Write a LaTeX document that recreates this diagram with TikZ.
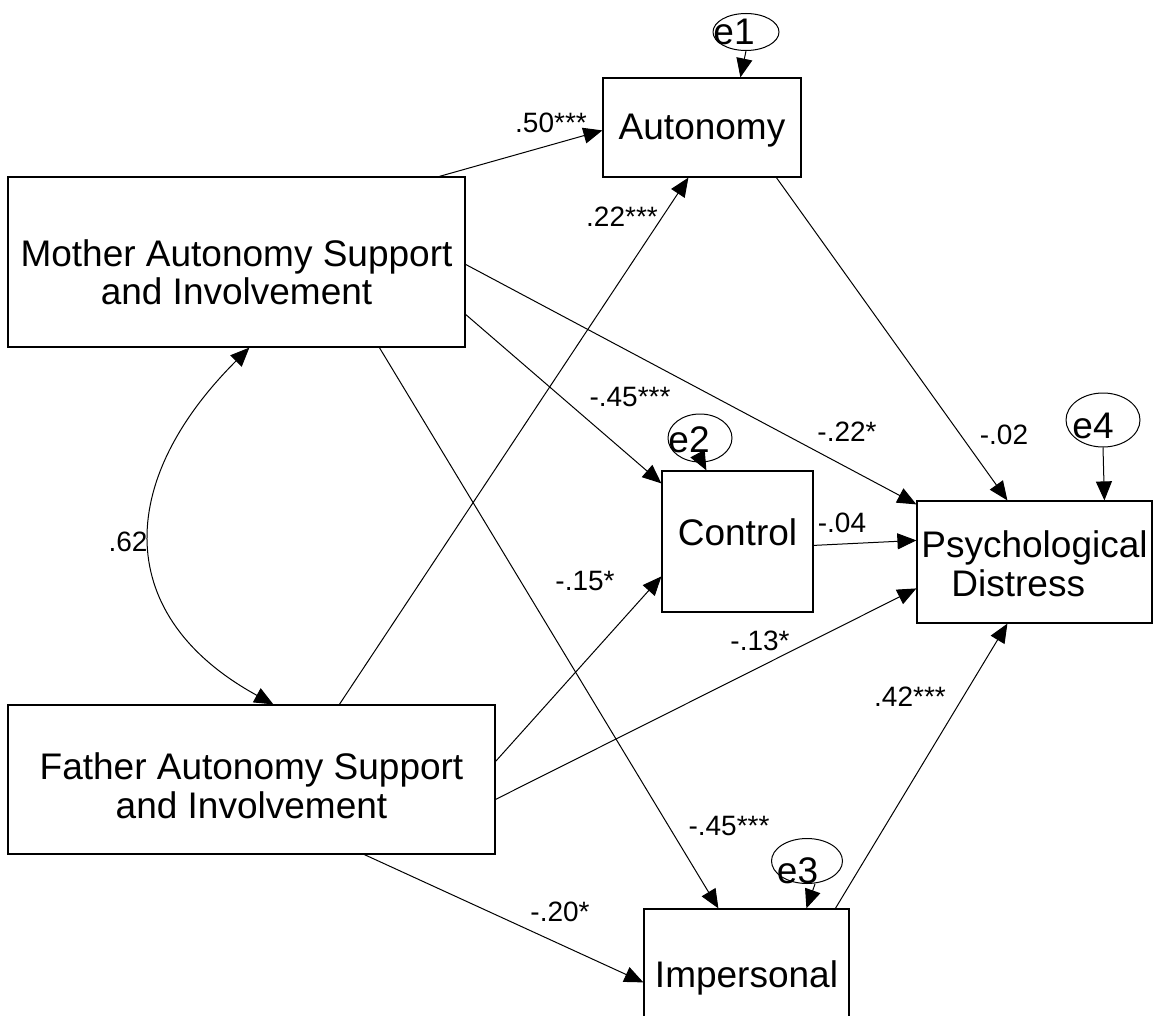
\documentclass[tikz,border=0pt]{standalone}
\usepackage{fontspec}
\setmainfont{Liberation Sans}
\usetikzlibrary{arrows.meta,calc,shapes.geometric}

% box text: first baseline lowered by #1 below the node centre
\newcommand\boxlines[3]{\raisebox{-#1}[0pt][0pt]{\begin{tabular}[t]{@{}#2@{}}#3\end{tabular}}}
% error term label: baseline lowered by #1, pulled left by half of #2
\newcommand\errlabel[3]{\raisebox{-#1}[0pt][0pt]{\makebox[0pt]{#3\hspace*{#2}}}}

\tikzset{
  varbox/.style={draw, rectangle, line width=0.6pt, inner sep=0pt,
                 font=\fontsize{18.5}{19.5}\selectfont},
  errnode/.style={draw, ellipse, line width=0.5pt, inner sep=0pt,
                  font=\fontsize{18.5}{19.5}\selectfont},
  link/.style={-{Triangle[length=9.5pt,width=8pt]}, line width=0.5pt},
  covlink/.style={{Triangle[length=9.5pt,width=8pt]}-{Triangle[length=9.5pt,width=8pt]}, line width=0.5pt},
  coef/.style={font=\fontsize{14}{16}\selectfont, inner sep=0pt},
}

\begin{document}
\begin{tikzpicture}[x=0.5pt, y=-0.5pt]
\fill[white] (0,0) rectangle (1156,1016);
\useasboundingbox (0,0) rectangle (1156,1016);

% observed variables
\node[varbox, minimum width=228.5pt, minimum height=85pt] (mother) at (236.5,262)
  {\boxlines{2pt}{c}{Mother Autonomy Support\\and Involvement}};
\node[varbox, minimum width=243.5pt, minimum height=74.5pt] (father) at (251.5,779.5)
  {\boxlines{0pt}{c}{Father Autonomy Support\\and Involvement}};
\node[varbox, minimum width=99pt, minimum height=49.5pt] (auton) at (702,127.5)
  {\boxlines{6.25pt}{c}{Autonomy}};
\node[varbox, minimum width=75.5pt, minimum height=70.5pt] (control) at (737.5,541.5)
  {\boxlines{1.75pt}{c}{Control}};
\node[varbox, minimum width=117.5pt, minimum height=61pt] (psych) at (1034.5,562)
  {\boxlines{-2.5pt}{l}{Psychological\\\hspace*{15pt}Distress}};
\node[varbox, minimum width=102.5pt, minimum height=61pt] (imper) at (746.5,970)
  {\boxlines{8.5pt}{c}{Impersonal}};

% error terms
\node[errnode, minimum width=33pt, minimum height=18.5pt] (e1) at (746,32) {\errlabel{6.5pt}{12pt}{e1}};
\node[errnode, minimum width=32pt, minimum height=24pt] (e2) at (700,438) {\errlabel{7pt}{11pt}{e2}};
\node[errnode, minimum width=35.5pt, minimum height=22.5pt] (e3) at (807,861) {\errlabel{11pt}{9.5pt}{e3}};
\node[errnode, minimum width=37pt, minimum height=27pt] (e4) at (1103,420) {\errlabel{9pt}{10pt}{e4}};

% paths from mother
\draw[link] ($(mother.north west)+(432,0)$) -- ($(auton.north west)+(0,53)$);
\draw[link] ($(mother.north east)+(0,88)$) -- ($(psych.north west)+(0,4)$);
\draw[link] ($(mother.north east)+(0,138)$) -- ($(control.north west)+(0,13)$);
\draw[link] ($(mother.south west)+(372,0)$) -- ($(imper.north west)+(75,0)$);

% paths from father
\draw[link] ($(father.north west)+(332,0)$) -- ($(auton.south west)+(86,0)$);
\draw[link] ($(father.north east)+(0,57)$) -- ($(control.north west)+(0,106)$);
\draw[link] ($(father.north east)+(0,95)$) -- ($(psych.north west)+(0,88)$);
\draw[link] ($(father.south west)+(357,0)$) -- ($(imper.north west)+(0,74)$);

% paths to distress
\draw[link] ($(auton.south west)+(174,0)$) -- ($(psych.north west)+(91,0)$);
\draw[link] ($(control.north east)+(0,75)$) -- ($(psych.north west)+(0,40)$);
\draw[link] ($(imper.north west)+(192,0)$) -- ($(psych.south west)+(91,0)$);

% error paths
\draw[link] (e1.south) -- ($(auton.north west)+(138,0)$);
\draw[link] ($(e2.south)+(-2,-8)$) -- ($(control.north west)+(45,0)$);
\draw[link] ($(e3.south)+(8,0)$) -- ($(imper.north west)+(163,0)$);
\draw[link] (e4.south) -- ($(psych.north west)+(188,0)$);

% covariance
\draw[covlink] ($(mother.south west)+(242,0)$) .. controls (114,483) and (114,617) .. ($(father.north west)+(266,0)$);

% coefficients
\node[coef] (c1) at (551,123) {.50***};
\node[coef] (c2) at (622,217) {.22***};
\node[coef] (c3) at (630,397) {-.45***};
\node[coef] (c4) at (847,432) {-.22*};
\node[coef] (c5) at (1004,435) {-.02};
\node[coef] (c6) at (842,523) {-.04};
\node[coef] (c7) at (128,542) {.62};
\node[coef] (c8) at (585,581) {-.15*};
\node[coef] (c9) at (760,641) {-.13*};
\node[coef] (c10) at (910,697) {.42***};
\node[coef] (c11) at (729,826) {-.45***};
\node[coef] (c12) at (560,912) {-.20*};
\end{tikzpicture}
\end{document}
